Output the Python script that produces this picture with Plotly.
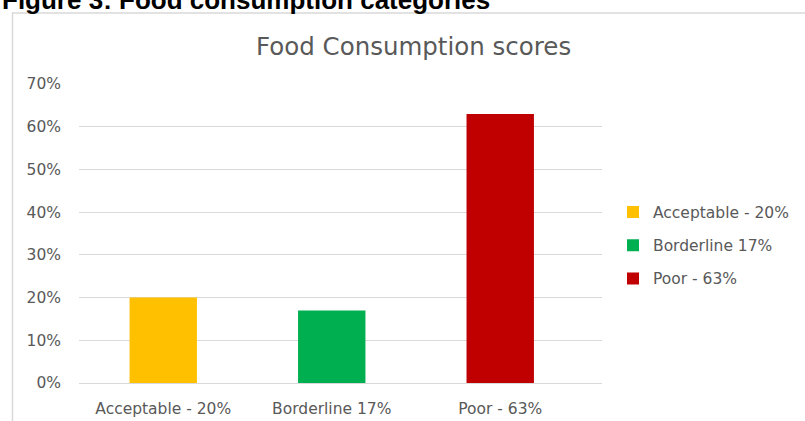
import plotly.graph_objects as go

categories = ["Acceptable - 20%", "Borderline 17%", "Poor - 63%"]
values = [0.20, 0.17, 0.63]
colors = ["#FFC000", "#00B050", "#C00000"]
y_ticks = [0, 0.1, 0.2, 0.3, 0.4, 0.5, 0.6, 0.7]

W, H = 805, 421
L, R, T, B = 79, 602, 84, 383
PW, PH = R - L, B - T

def px(p):
    return (p - L) / PW

def py(p):
    return (B - p) / PH

FONT = "DejaVu Sans"
GRAY = "#595959"

fig = go.Figure()
for i, (c, v, col) in enumerate(zip(categories, values, colors)):
    fig.add_trace(go.Bar(
        x=[c], y=[v], name=c, marker=dict(color=col, line=dict(width=0)),
        width=0.4, legendgroup=f"g{i}", hoverinfo="skip",
    ))

fig.update_layout(
    width=W, height=H,
    margin=dict(l=L, r=W - R, t=T, b=H - B, pad=0, autoexpand=False),
    paper_bgcolor="white", plot_bgcolor="white",
    barmode="overlay",
    font=dict(family=FONT, color=GRAY, size=15.5),
    showlegend=True,
    legend=dict(
        x=px(613), xanchor="left", y=py(245.5), yanchor="middle",
        font=dict(family=FONT, size=15.5, color=GRAY),
        tracegroupgap=10, bgcolor="rgba(0,0,0,0)",
    ),
    xaxis=dict(
        type="category", categoryorder="array", categoryarray=categories,
        range=[-0.5, 2.604], showgrid=False, zeroline=False, automargin=False,
        showline=False, ticks="", ticklabelstandoff=14,
        tickfont=dict(family=FONT, size=15.5, color=GRAY), fixedrange=True,
    ),
    yaxis=dict(
        range=[0, 0.7], tickvals=y_ticks, tickformat=".0%", automargin=False,
        showgrid=True, gridcolor="#D9D9D9", gridwidth=1,
        zeroline=True, zerolinecolor="#D9D9D9", zerolinewidth=1,
        showline=False, ticks="", ticklabelstandoff=17,
        tickfont=dict(family=FONT, size=15.5, color=GRAY), fixedrange=True,
    ),
    shapes=[dict(
        type="path", xref="paper", yref="paper",
        path=f"M {px(12.5)},{py(430)} L {px(12.5)},{py(13)} L {px(820)},{py(13)}",
        line=dict(color="#D9D9D9", width=1.5),
    )],
    annotations=[
        dict(text="Food Consumption scores", xref="paper", yref="paper",
             x=px(413.5), y=py(46), xanchor="center", yanchor="middle",
             showarrow=False, font=dict(family=FONT, size=24.5, color=GRAY)),
        dict(text="<b>Figure 3: Food consumption categories</b>", xref="paper", yref="paper",
             x=px(0), y=py(17), xanchor="left", yanchor="bottom",
             showarrow=False, font=dict(family="Liberation Sans", size=26, color="#000000")),
    ],
)

fig.write_html("out.html")
